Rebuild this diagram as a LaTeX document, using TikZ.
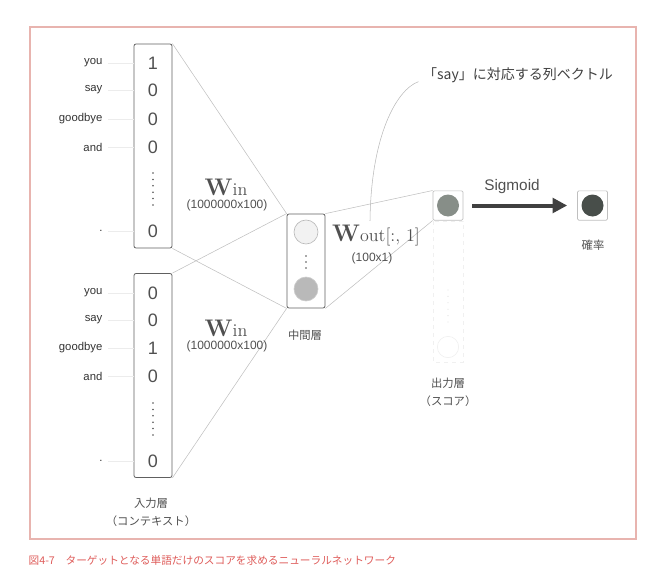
\documentclass[tikz,border=0pt]{standalone}
\usepackage{fontspec}
\setsansfont{Liberation Sans}
\newfontfamily\jpfont{Noto Sans CJK JP}
\usetikzlibrary{arrows.meta, positioning}
\definecolor{framecol}{RGB}{232,180,175}
\definecolor{capred}{RGB}{222,92,90}
\definecolor{inkgray}{RGB}{80,80,80}
\definecolor{outfill}{RGB}{135,142,136}
\definecolor{probfill}{RGB}{72,78,74}

\begin{document}
\begin{tikzpicture}[
    x=0.75pt, y=-0.75pt,
    vec/.style={draw=gray!75!black, rounded corners=1.5pt, line width=0.6pt, minimum width=28.5pt, minimum height=153pt, inner sep=0pt},
    hidbox/.style={draw=gray!75!black, rounded corners=1.5pt, line width=0.6pt, minimum width=28.5pt, minimum height=70.5pt, inner sep=0pt},
    cell/.style={draw=gray!50, rounded corners=1pt, line width=0.5pt, minimum width=22.5pt, minimum height=22pt, inner sep=0pt},
    unit/.style={circle, draw=gray!55, line width=0.5pt, minimum size=18pt, inner sep=0pt},
    num/.style={font=\sffamily\fontsize{13.5}{14}\selectfont, text=inkgray},
    word/.style={font=\sffamily\fontsize{8.5}{10}\selectfont, text=black!80, anchor=east, inner sep=1pt},
    size/.style={font=\sffamily\fontsize{9}{10}\selectfont, text=inkgray},
    wlab/.style={font=\rmfamily\fontsize{13.5}{14}\selectfont, text=inkgray},
    jp/.style={font=\jpfont\fontsize{8.5}{13.5}\selectfont, text=inkgray, align=center},
    wire/.style={draw=gray!50, line width=0.4pt},
    tick/.style={draw=gray!15, line width=0.5pt, shorten <=3pt},
    dotline/.style={draw=inkgray, line width=1.3pt, line cap=round, dash pattern=on 0pt off 4.8pt},
    sig/.style={draw=black!75, line width=3pt, -{Triangle[length=11pt, width=11pt]}, shorten <=6.5pt, shorten >=7.5pt},
    lead/.style={draw=gray!55, line width=0.4pt}
]
    \useasboundingbox (0,0) rectangle (659,585);
    \draw[framecol, line width=0.8pt] (30,27) rectangle (636,539);

    \node[vec] (vtop) at (153,146) {};
    \node[num] (t1) at (153,63) {1};
    \node[num] (t2) at (153,90) {0};
    \node[num] (t3) at (153,119) {0};
    \node[num] (t4) at (153,147) {0};
    \node[num] (t5) at (153,231) {0};
    \draw[dotline] (153,173) -- (153,206);

    \node[word] (a1) at (104,63) {you};
    \node[word] (a2) at (104,90) {say};
    \node[word] (a3) at (104,119) {goodbye};
    \node[word] (a4) at (104,147) {and};
    \node[word] (a5) at (104,231) {.};
    \draw[tick] (a1.east) -- (a1.east -| vtop.west);
    \draw[tick] (a2.east) -- (a2.east -| vtop.west);
    \draw[tick] (a3.east) -- (a3.east -| vtop.west);
    \draw[tick] (a4.east) -- (a4.east -| vtop.west);
    \draw[tick] (a5.east) -- (a5.east -| vtop.west);

    \node[vec] (vbot) at (153,375.5) {};
    \node[num] (b1) at (153,293) {0};
    \node[num] (b2) at (153,320) {0};
    \node[num] (b3) at (153,348) {1};
    \node[num] (b4) at (153,376) {0};
    \node[num] (b5) at (153,461) {0};
    \draw[dotline] (153,403) -- (153,436);

    \node[word] (c1) at (104,293) {you};
    \node[word] (c2) at (104,320) {say};
    \node[word] (c3) at (104,348) {goodbye};
    \node[word] (c4) at (104,376) {and};
    \node[word] (c5) at (104,461) {.};
    \draw[tick] (c1.east) -- (c1.east -| vbot.west);
    \draw[tick] (c2.east) -- (c2.east -| vbot.west);
    \draw[tick] (c3.east) -- (c3.east -| vbot.west);
    \draw[tick] (c4.east) -- (c4.east -| vbot.west);
    \draw[tick] (c5.east) -- (c5.east -| vbot.west);

    \node[jp] (inlab) at (151,512) {入力層\\（コンテキスト）};

    \node[hidbox] (hid) at (306,261) {};
    \node[unit, fill=gray!10] (h1) at (306,232) {};
    \node[unit, fill=gray!55, draw=gray!40] (h2) at (306,289) {};
    \draw[dotline, line width=1.2pt, dash pattern=on 0pt off 4.5pt] (306,256) -- (306,269);
    \node[jp] (hidlab) at (305,335) {中間層};

    \node[cell] (outc) at (448,205.5) {};
    \node[unit, fill=outfill, draw=none, minimum size=16.5pt] (o1) at (outc) {};
    \draw[gray!12, line width=0.5pt, dashed] (433,221) rectangle (463,362);
    \draw[dotline, draw=gray!20, line width=1pt] (448,290) -- (448,322);
    \draw[gray!12, line width=0.5pt] (448,347) circle (8pt);
    \node[jp] (outlab) at (448,392) {出力層\\（スコア）};

    \node[cell] (prob) at (592.5,205.5) {};
    \node[unit, fill=probfill, draw=none, minimum size=16.5pt] (p1) at (prob) {};
    \node[jp] (problab) at (593,245) {確率};

    \draw[wire] (vtop.north east) -- (hid.north west);
    \draw[wire] (vtop.south east) -- (hid.south west);
    \draw[wire] (vbot.north east) -- (hid.north west);
    \draw[wire] (vbot.south east) -- (hid.south west);
    \draw[wire] (hid.north east) -- (outc.north west);
    \draw[wire] (hid.south east) -- (outc.south west);

    \node[wlab] (win1) at (226,187) {{\bfseries\fontsize{18}{18}\selectfont W}in};
    \node[size] (sz1) at (227,205) {(1000000x100)};
    \node[wlab] (win2) at (226,328) {{\bfseries\fontsize{18}{18}\selectfont W}in};
    \node[size] (sz2) at (227,346) {(1000000x100)};
    \node[wlab] (wout) at (376,236) {{\bfseries\fontsize{18}{18}\selectfont W}out[:, 1]};
    \node[size] (sz3) at (372,258) {(100x1)};

    \node[jp, font=\jpfont\fontsize{10.5}{12}\selectfont, text=black!75] (note) at (518,75) {「say」に対応する列ベクトル};
    \draw[lead] ([xshift=-4.5pt]wout.north) .. controls +(1,-85) and +(-22,8) .. ([yshift=-5pt]note.west);

    \draw[sig] (outc) -- (prob);
    \node[font=\sffamily\fontsize{11.5}{12}\selectfont, text=inkgray] (sigtxt) at (512,187) {Sigmoid};

    \node[font=\jpfont\fontsize{8}{10}\selectfont, text=capred, anchor=west] (cap) at (24,560) {図4-7　ターゲットとなる単語だけのスコアを求めるニューラルネットワーク};
\end{tikzpicture}
\end{document}
